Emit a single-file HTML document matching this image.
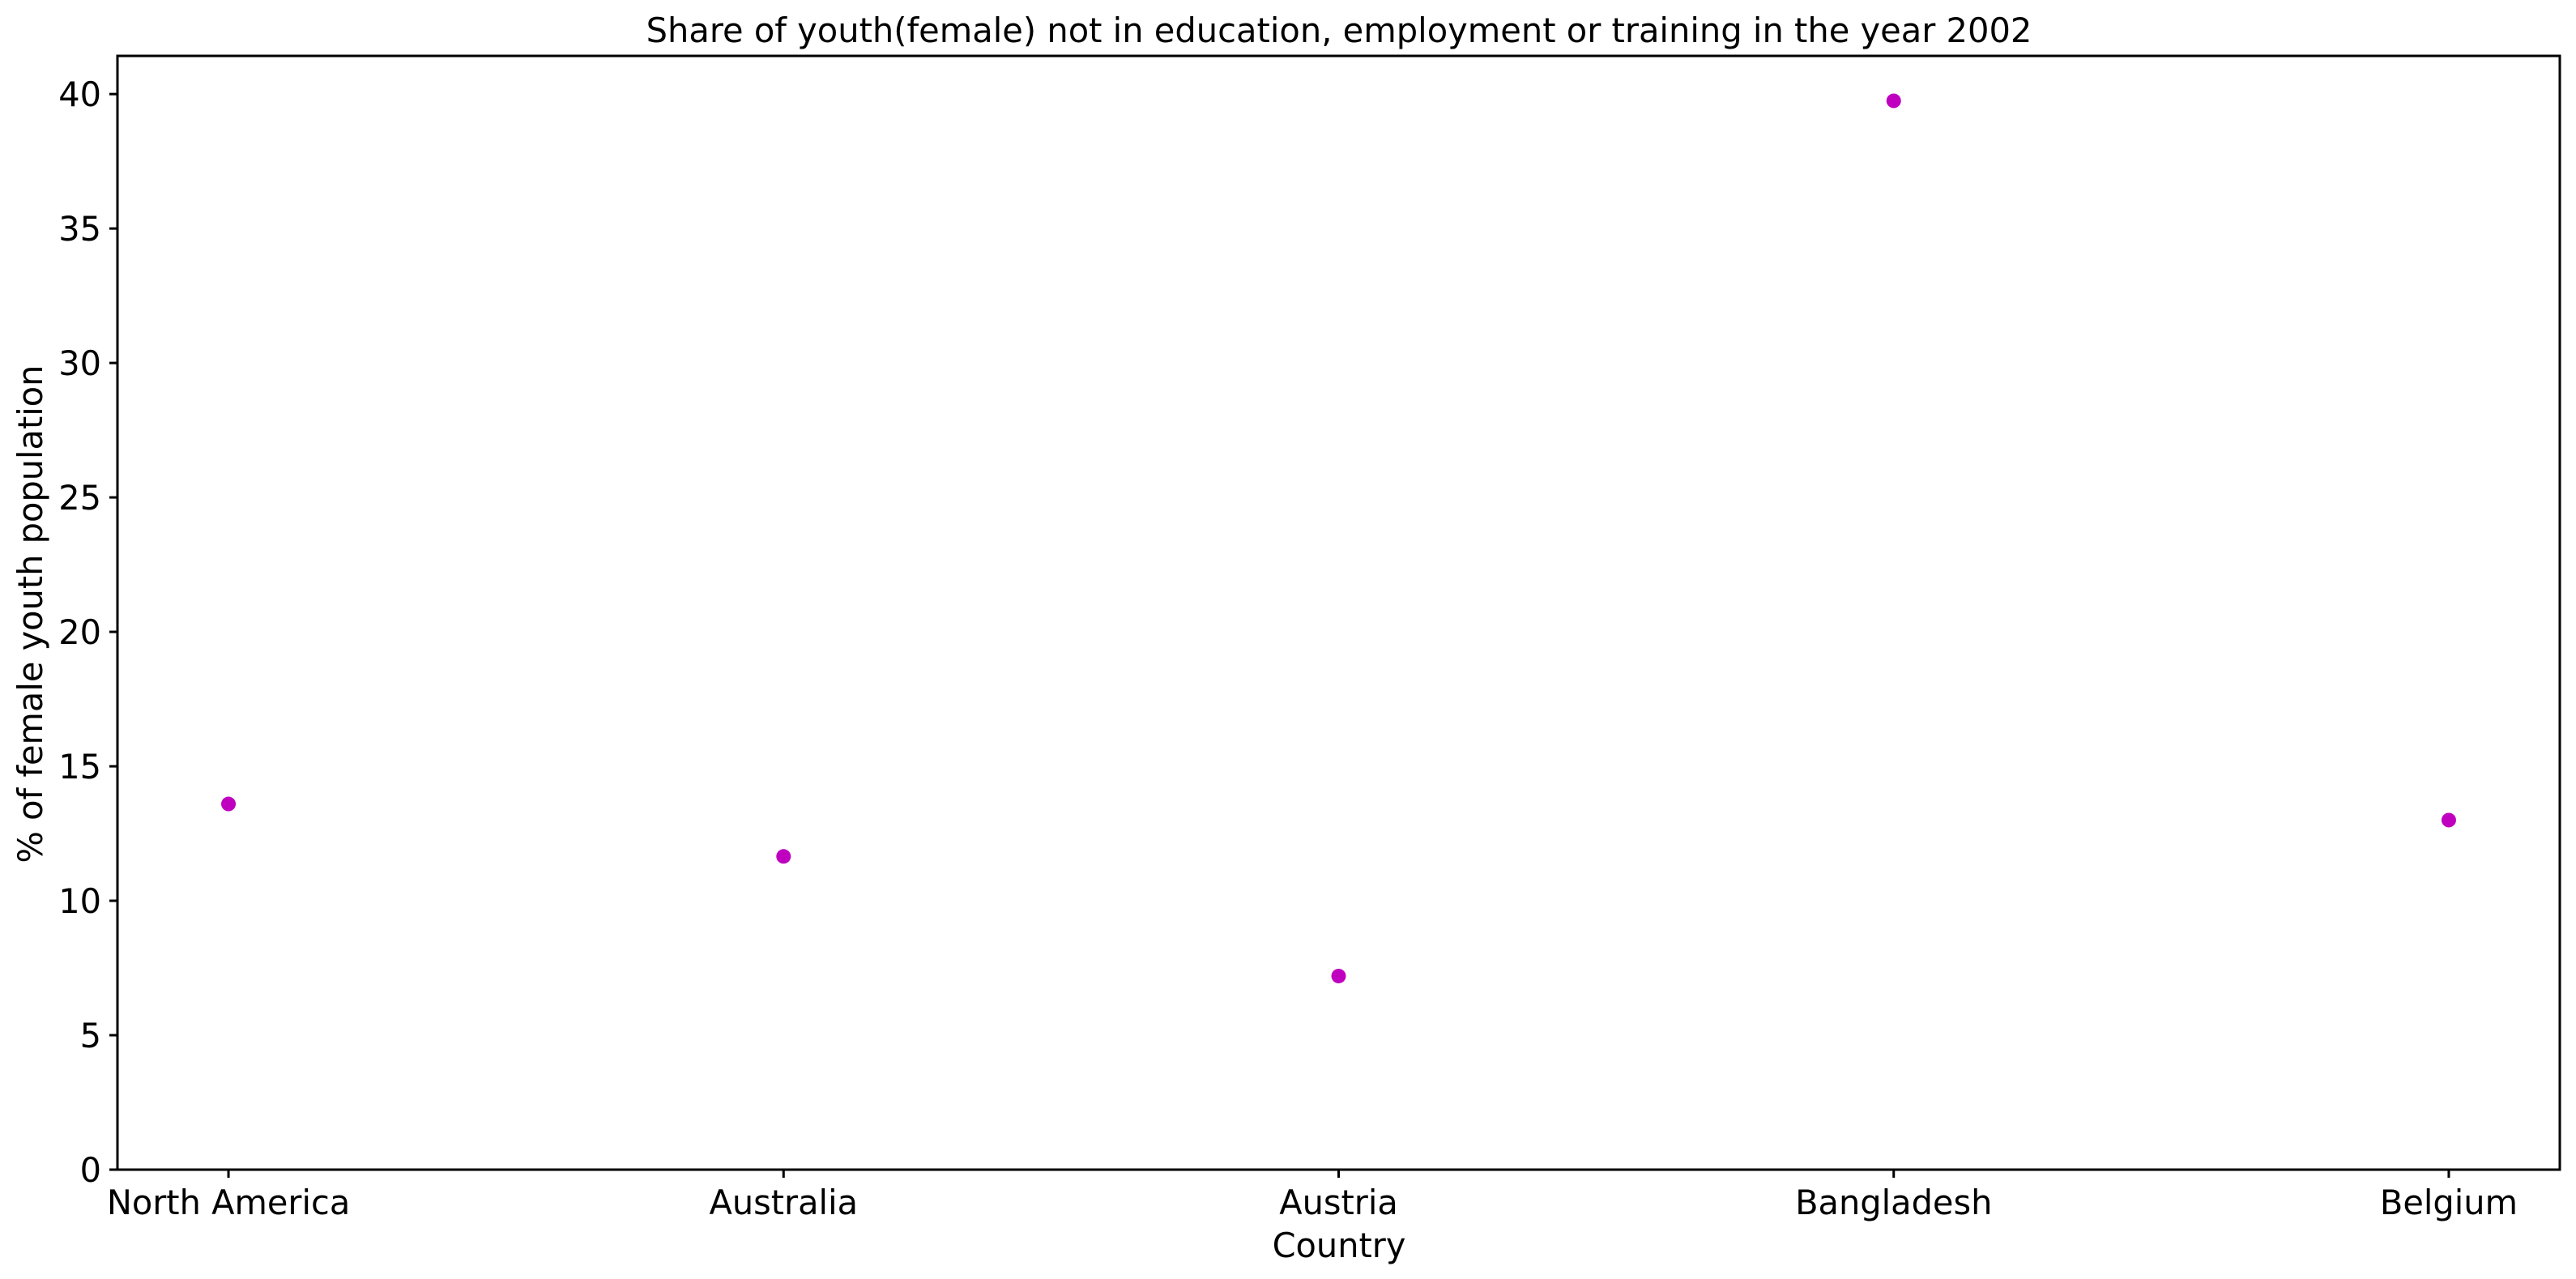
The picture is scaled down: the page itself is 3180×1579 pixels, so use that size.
<!DOCTYPE html>
<html><head><meta charset="utf-8"><style>
html,body{margin:0;padding:0;background:#fff;}
svg{display:block;font-family:"DejaVu Sans","Liberation Sans",sans-serif;}
</style></head><body>
<svg id="chart" width="3180" height="1579" viewBox="0 0 3180 1579" xmlns="http://www.w3.org/2000/svg">
<rect width="3180" height="1579" fill="#fff"/>
<text x="1653" y="52" font-size="41.6" text-anchor="middle">Share of youth(female) not in education, employment or training in the year 2002</text>
<g id="yticks"></g>
<g id="xticks"></g>
<g id="points"></g>
<rect x="145" y="69" width="3015" height="1375" fill="none" stroke="#000" stroke-width="3"/>
<text x="1653" y="1552" font-size="41.5" text-anchor="middle">Country</text>
<text transform="translate(52,758) rotate(-90)" font-size="41.5" text-anchor="middle">% of female youth population</text>
</svg>
<script>
const categories = ["North America","Australia","Austria","Bangladesh","Belgium"];
const values = [13.6, 11.65, 7.2, 39.75, 13.0];
const yTicks = [0,5,10,15,20,25,30,35,40];
const L=145,R=3160,T=69,B=1444;
const xMin=-0.2,xMax=categories.length-1+0.2,yMin=0,yMax=41.42;
function xs(i){return L+(i-xMin)/(xMax-xMin)*(R-L);}
function ys(v){return B-(v-yMin)/(yMax-yMin)*(B-T);}
const NS="http://www.w3.org/2000/svg";
function mk(t,a,p){const e=document.createElementNS(NS,t);for(const k in a)e.setAttribute(k,a[k]);p.appendChild(e);return e;}
const yg=document.getElementById('yticks');
yTicks.forEach(v=>{
  const l=mk('line',{x1:L-10,x2:L,y1:ys(v),y2:ys(v),stroke:'#000','stroke-width':3},yg);
  
  
  const t=mk('text',{x:L-20,y:ys(v)+15,'font-size':41.5,'text-anchor':'end'},yg);
  
  
  t.textContent=v;
});
const xg=document.getElementById('xticks');
categories.forEach((c,i)=>{
  const l=mk('line',{x1:xs(i),x2:xs(i),y1:B,y2:B+10,stroke:'#000','stroke-width':3},xg);
  
  
  const t=mk('text',{x:xs(i),y:B+55,'font-size':41.5,'text-anchor':'middle'},xg);
  
  
  t.textContent=c;
});
const pg=document.getElementById('points');
values.forEach((v,i)=>{
  const c=mk('circle',{cx:xs(i),cy:ys(v),r:9,fill:'#bf00bf'},pg);
  
  
});
</script>
</body></html>
